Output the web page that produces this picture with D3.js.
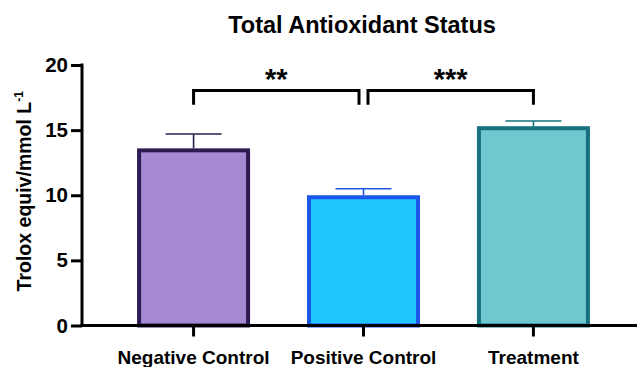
<!DOCTYPE html>
<meta charset="utf-8">
<style>
  body { margin: 0; background: #fff; }
  text { font-family: "Liberation Sans", Arial, sans-serif; font-weight: bold; fill: #000; }
</style>
<script src="https://cdn.jsdelivr.net/npm/d3@7"></script>
<div id="my_dataviz"></div>
<script>

// data
var groups = ["Negative Control", "Positive Control", "Treatment"];
var means = [13.6, 10.0, 15.3];
var sems = [1.1, 0.5, 0.4];
var fills = ["#A58AD3", "#1FC6FE", "#6FC8D0"];
var strokes = ["#2D1B52", "#1C56E8", "#15727E"];
var yTicks = [0, 5, 10, 15, 20];
// significance brackets: [from group, to group, label]
var brackets = [[0, 1, "**"], [1, 2, "***"]];

var margin = {top: 65, right: 1, bottom: 41.5, left: 82},
    width = 638 - margin.left - margin.right,
    height = 367 - margin.top - margin.bottom;

var svg = d3.select("#my_dataviz")
  .append("svg")
    .attr("width", 638)
    .attr("height", 367)
  .append("g")
    .attr("transform", "translate(" + margin.left + "," + margin.top + ")");

// scales
var x = d3.scaleBand()
  .domain(groups)
  .range([8, width])
  .paddingInner(0.335)
  .paddingOuter(0.277);

var y = d3.scaleLinear()
  .domain([0, 20])
  .range([height, 0]);

// title
svg.append("text")
  .attr("x", 280)
  .attr("y", -32)
  .attr("text-anchor", "middle")
  .style("font-size", "23.5px")
  .text("Total Antioxidant Status");

// y label
var yl = svg.append("text")
  .attr("transform", "translate(-51," + (height / 2 - 4) + ") rotate(-90)")
  .attr("text-anchor", "middle")
  .style("font-size", "19.5px");
yl.append("tspan").text("Trolox equiv/mmol L");
yl.append("tspan").attr("dy", -8).style("font-size", "12px").text("-1");

// bars
var sw = 4;
svg.selectAll("rect.bar")
  .data(means)
  .enter()
  .append("rect")
    .attr("class", "bar")
    .attr("x", function(d, i) { return x(groups[i]) + sw / 2; })
    .attr("y", function(d) { return y(d) + sw / 2; })
    .attr("width", x.bandwidth() - sw)
    .attr("height", function(d) { return y(0) - y(d) - sw / 2; })
    .attr("fill", function(d, i) { return fills[i]; })
    .attr("stroke", function(d, i) { return strokes[i]; })
    .attr("stroke-width", sw);

// error bars (upper only)
var cx = function(i) { return x(groups[i]) + x.bandwidth() / 2; };
var err = svg.selectAll("g.err")
  .data(means)
  .enter()
  .append("g")
    .attr("class", "err")
    .attr("stroke", function(d, i) { return strokes[i]; })
    .attr("stroke-width", 1.6);
err.append("line")
  .attr("x1", function(d, i) { return cx(i); })
  .attr("x2", function(d, i) { return cx(i); })
  .attr("y1", function(d) { return y(d); })
  .attr("y2", function(d, i) { return y(d + sems[i]); });
err.append("line")
  .attr("x1", function(d, i) { return cx(i) - 28; })
  .attr("x2", function(d, i) { return cx(i) + 28; })
  .attr("y1", function(d, i) { return y(d + sems[i]); })
  .attr("y2", function(d, i) { return y(d + sems[i]); });

// axes
var yAxis = svg.append("g")
  .call(d3.axisLeft(y).tickValues(yTicks).tickSize(11).tickPadding(3).tickSizeOuter(0));
yAxis.select(".domain").attr("stroke-width", 3).attr("d", "M0," + (height + 1.5) + "V" + (-1.5));
yAxis.selectAll(".tick line").attr("stroke-width", 3);
yAxis.selectAll(".tick text").style("font-size", "20.5px").style("font-family", null);

var xAxis = svg.append("g")
  .attr("transform", "translate(0," + height + ")")
  .call(d3.axisBottom(x).tickSize(11).tickPadding(14).tickSizeOuter(0));
xAxis.select(".domain").attr("stroke-width", 3).attr("d", "M-1.5,0H" + width);
xAxis.selectAll(".tick line").attr("stroke-width", 3).attr("y1", 1.5);
xAxis.selectAll(".tick text").style("font-size", "19px").style("font-family", null);

// significance brackets
var bTop = 18.05, bLeg = 16.95;
brackets.forEach(function(b, k) {
  var x1 = cx(b[0]) + (k === 1 ? 4.5 : 0),
      x2 = cx(b[1]) - (k === 0 ? 4.5 : 0);
  svg.append("path")
    .attr("d", "M" + x1 + "," + y(bLeg) + "V" + y(bTop) + "H" + x2 + "V" + y(bLeg))
    .attr("fill", "none")
    .attr("stroke", "#000")
    .attr("stroke-width", 3);
  svg.append("text")
    .attr("x", (x1 + x2) / 2)
    .attr("y", y(bTop) - 1)
    .attr("text-anchor", "middle")
    .style("font-size", "29px")
    .text(b[2]);
});

</script>
